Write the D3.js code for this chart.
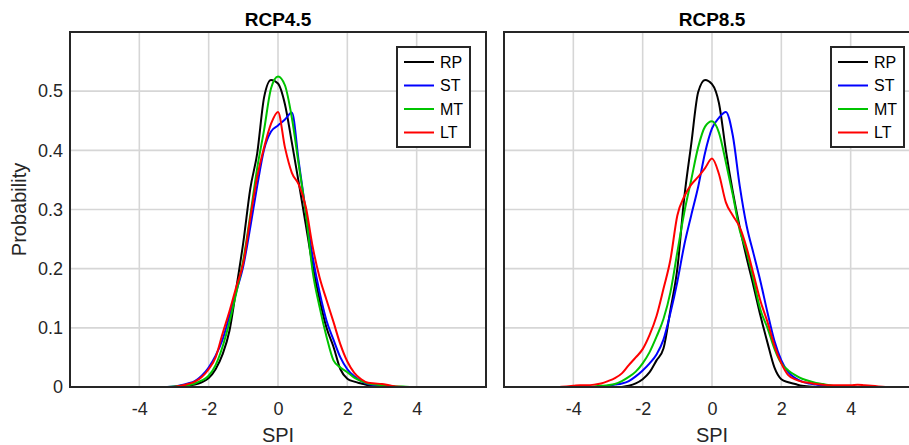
<!DOCTYPE html>
<html>
<head>
<meta charset="utf-8">
<script src="https://cdn.jsdelivr.net/npm/d3@7"></script>
<style>
body { margin: 0; background: #fff; }
text { font-family: "Liberation Sans", Arial, Helvetica, sans-serif; fill: #262626; }
</style>
</head>
<body>
<svg width="909" height="445"></svg>
<script>
var _ = null;
// SPI grid shared by all curves
var spi = [-4.6,-4.4,-4.2,-4.0,-3.8,-3.6,-3.4,-3.2,-3.0,-2.8,-2.6,-2.4,-2.2,-2.0,-1.8,-1.6,-1.4,-1.2,-1.0,-0.8,-0.6,-0.4,-0.2,
           0,0.2,0.4,0.6,0.8,1.0,1.2,1.4,1.6,1.8,2.0,2.2,2.4,2.6,2.8,3.0,3.2,3.4,3.6,3.8,4.0,4.2,4.4,4.6,4.8,5.0];

// RCP4.5
var rp45 = [_,_,_,_,_,_,_,_,0,0.001,0.002,0.004,0.008,0.015,0.03,0.055,0.095,0.168,0.245,0.335,0.395,0.49,0.519,
            0.513,0.478,0.413,0.345,0.275,0.205,0.148,0.1,0.068,0.03,0.014,0.009,0.006,0.003,0.001,0,_,_,_,_,_,_,_,_,_,_];
var st45 = [_,_,_,_,_,_,_,0,0.001,0.003,0.006,0.01,0.019,0.033,0.053,0.08,0.12,0.162,0.205,0.27,0.34,0.402,0.432,
            0.442,0.452,0.464,0.38,0.297,0.22,0.16,0.112,0.08,0.05,0.03,0.018,0.01,0.005,0.003,0.002,0.001,0,_,_,_,_,_,_,_,_];
var mt45 = [_,_,_,_,_,_,_,0,0.001,0.002,0.003,0.006,0.011,0.019,0.037,0.068,0.11,0.16,0.215,0.29,0.37,0.435,0.505,
            0.525,0.51,0.455,0.375,0.295,0.195,0.135,0.085,0.045,0.033,0.025,0.016,0.01,0.006,0.004,0.003,0.002,0.001,0.001,0,_,_,_,_,_,_];
var lt45 = [_,_,_,_,_,_,_,_,0,0.002,0.005,0.009,0.017,0.03,0.05,0.09,0.128,0.17,0.21,0.285,0.355,0.405,0.445,
            0.465,0.405,0.362,0.342,0.305,0.237,0.185,0.147,0.11,0.072,0.043,0.024,0.013,0.007,0.006,0.005,0.003,0.001,0,_,_,_,_,_,_,_];

// RCP8.5
var rp85 = [_,_,_,_,_,_,_,_,_,_,0,0.002,0.006,0.013,0.025,0.045,0.065,0.13,0.2,0.32,0.41,0.498,0.519,
            0.512,0.48,0.4,0.33,0.27,0.218,0.17,0.12,0.075,0.033,0.013,0.008,0.005,0.002,0.001,0,_,_,_,_,_,_,_,_,_,_];
var st85 = [_,_,_,_,_,_,_,0,0.002,0.004,0.006,0.01,0.018,0.028,0.04,0.055,0.08,0.125,0.178,0.24,0.29,0.338,0.396,
            0.437,0.455,0.465,0.425,0.34,0.272,0.225,0.178,0.126,0.078,0.045,0.025,0.015,0.009,0.006,0.004,0.002,0.001,0,_,_,_,_,_,_,_];
var mt85 = [_,_,_,_,_,0,0.001,0.002,0.003,0.005,0.01,0.017,0.026,0.04,0.059,0.085,0.115,0.16,0.228,0.295,0.35,0.405,0.44,
            0.449,0.43,0.38,0.325,0.265,0.228,0.18,0.13,0.1,0.065,0.04,0.028,0.02,0.014,0.01,0.007,0.005,0.003,0.001,0,_,_,_,_,_,_];
var lt85 = [_,0,0.001,0.002,0.003,0.003,0.004,0.006,0.01,0.015,0.023,0.037,0.05,0.064,0.088,0.12,0.166,0.215,0.29,0.322,0.342,0.355,0.37,
            0.386,0.36,0.312,0.29,0.27,0.235,0.19,0.145,0.11,0.07,0.04,0.02,0.013,0.009,0.007,0.005,0.004,0.003,0.003,0.003,0.003,0.004,0.003,0.002,0.001,0];

var names = ["RP", "ST", "MT", "LT"];
var colors = ["#000000", "#0000ff", "#00c400", "#ff0000"];
var titles = ["RCP4.5", "RCP8.5"];
var xTicks = [-4, -2, 0, 2, 4];
var yTicks = [0, 0.1, 0.2, 0.3, 0.4, 0.5];

var svg = d3.select("svg");
var plotTop = 32, plotBottom = 387, pw = 416;

function drawPanel(left, title, series, showY){
    var x = d3.scaleLinear().domain([-6, 6]).range([left, left + pw]);
    var y = d3.scaleLinear().domain([0, 0.6]).range([plotBottom, plotTop]);
    var g = svg.append("g");

    // grid
    g.append("g").selectAll("line").data(xTicks).enter().append("line")
        .attr("x1", d => x(d)).attr("x2", d => x(d))
        .attr("y1", plotTop).attr("y2", plotBottom)
        .attr("stroke", "#d6d6d6").attr("stroke-width", 1.6);
    g.append("g").selectAll("line").data(yTicks.slice(1)).enter().append("line")
        .attr("x1", left).attr("x2", left + pw)
        .attr("y1", d => y(d)).attr("y2", d => y(d))
        .attr("stroke", "#d6d6d6").attr("stroke-width", 1.6);

    // curves
    var line = d3.line()
        .defined(d => d[1] != null)
        .x(d => x(d[0])).y(d => y(d[1]))
        .curve(d3.curveMonotoneX);
    series.forEach(function(s, i){
        g.append("path")
            .datum(spi.map((v, j) => [v, s[j]]))
            .attr("d", line)
            .attr("fill", "none")
            .attr("stroke", colors[i])
            .attr("stroke-width", 2);
    });

    // frame
    g.append("rect")
        .attr("x", left).attr("y", plotTop)
        .attr("width", pw).attr("height", plotBottom - plotTop)
        .attr("fill", "none").attr("stroke", "#262626").attr("stroke-width", 2);

    // axes
    var xa = g.append("g").attr("transform", "translate(0," + plotBottom + ")")
        .call(d3.axisBottom(x).tickValues(xTicks).tickSize(0).tickPadding(15).tickFormat(d => String(d)));
    xa.select(".domain").remove();
    xa.selectAll("text").attr("font-size", 18).attr("fill", "#262626");
    if(showY){
        var ya = g.append("g").attr("transform", "translate(" + left + ",0)")
            .call(d3.axisLeft(y).tickValues(yTicks).tickSize(0).tickPadding(7).tickFormat(d => String(d)));
        ya.select(".domain").remove();
        ya.selectAll("text").attr("font-size", 18).attr("fill", "#262626");
    }

    g.append("text")
        .attr("x", left + pw / 2).attr("y", 26)
        .attr("text-anchor", "middle")
        .attr("font-size", 19).attr("font-weight", "bold")
        .style("fill", "#000")
        .text(title);
    g.append("text")
        .attr("x", left + pw / 2).attr("y", 442)
        .attr("text-anchor", "middle")
        .attr("font-size", 20)
        .text("SPI");

    // legend
    var lx = left + 327, ly = 47;
    var lg = g.append("g");
    lg.append("rect")
        .attr("x", lx).attr("y", ly).attr("width", 73).attr("height", 100)
        .attr("fill", "#fff").attr("stroke", "#262626").attr("stroke-width", 2);
    var items = lg.selectAll(".item").data(names).enter().append("g")
        .attr("transform", (d, i) => "translate(" + lx + "," + (ly + 15 + i * 23.5) + ")");
    items.append("line")
        .attr("x1", 7).attr("x2", 37)
        .attr("stroke", (d, i) => colors[i]).attr("stroke-width", 2);
    items.append("text")
        .attr("x", 43).attr("dy", "0.35em")
        .attr("font-size", 16)
        .style("fill", "#000")
        .text(d => d);
}

drawPanel(70, titles[0], [rp45, st45, mt45, lt45], true);
drawPanel(504, titles[1], [rp85, st85, mt85, lt85], false);

svg.append("text")
    .attr("transform", "translate(26,209.5) rotate(-90)")
    .attr("text-anchor", "middle")
    .attr("font-size", 20)
    .text("Probability");
</script>
</body>
</html>
